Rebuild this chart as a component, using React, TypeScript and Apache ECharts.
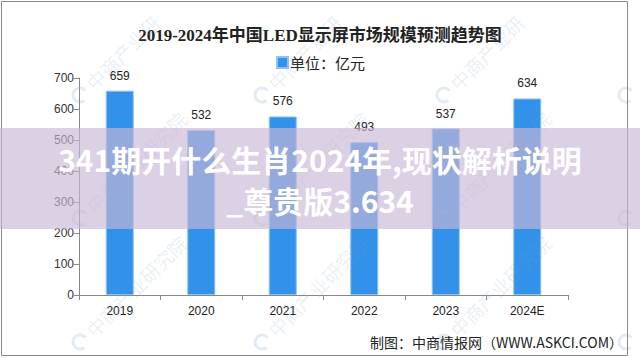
import React, { useEffect, useRef } from "react";
import * as echarts from "echarts";

const categories = ["2019", "2020", "2021", "2022", "2023", "2024E"];
const values = [659, 532, 576, 493, 537, 634];
const seriesName = "单位：亿元";
const titleText = "2019-2024年中国LED显示屏市场规模预测趋势图";
const overlayLine1 = "341期开什么生肖2024年,现状解析说明";
const overlayLine2 = "_尊贵版3.634";
const footerText = "制图：中商情报网（WWW.ASKCI.COM）";
const watermarkText = "中商产业研究院";
const yTicks = { min: 0, max: 700, interval: 100 };

export default function App() {
  const ref = useRef<HTMLDivElement>(null);
  useEffect(() => {
    if (!ref.current) return;
    const chart = echarts.init(ref.current, null, { renderer: "svg" });
    const W = 640;
    const wmCols = [80, 262, 444, 626];
    const wmRows = [95, 218, 342];
    const fs = 19;
    const step = fs * Math.SQRT1_2;
    const watermarks: any[] = [];
    wmRows.forEach((y) =>
      wmCols.forEach((x) => {
        watermarks.push({
          type: "arc",
          shape: { cx: x, cy: y, r: 7, startAngle: 0.9, endAngle: 5.6 },
          style: { stroke: "rgba(120,160,210,0.22)", lineWidth: 3, fill: "none" },
          z: 50,
          silent: true,
        });
        const sx = x + 9;
        const sy = y - 9;
        const nx = Math.floor((W - 4 - sx - step) / step);
        const ny = Math.floor((sy - 4 - step) / step);
        const n = Math.min(watermarkText.length, nx, ny);
        if (n > 0) {
          watermarks.push({
            type: "text",
            x: sx,
            y: sy,
            rotation: Math.PI / 4,
            style: {
              text: watermarkText.slice(0, n),
              fontSize: fs,
              fontFamily: "Noto Sans CJK SC",
              fill: "rgba(130,160,200,0.18)",
              textAlign: "left",
              textVerticalAlign: "middle",
            },
            z: 50,
            silent: true,
          });
        }
      })
    );
    chart.setOption({
      animation: false,
      backgroundColor: "#ffffff",
      title: {
        text: titleText,
        left: "center",
        top: 22,
        textStyle: {
          fontSize: 17,
          fontWeight: "bold",
          color: "#222",
          fontFamily: "'Liberation Serif', 'Noto Sans CJK SC', serif",
        },
      },
      legend: {
        data: [seriesName],
        left: 271,
        top: 50,
        itemWidth: 11,
        itemHeight: 11,
        icon: "rect",
        itemGap: 2,
        textStyle: { fontSize: 15, color: "#222", fontFamily: "'Noto Sans CJK SC'", padding: [0, 0, 0, -3] },
      },
      grid: { left: 79, right: 72, top: 78, bottom: 63, containLabel: false },
      xAxis: {
        type: "category",
        data: categories,
        axisLine: { lineStyle: { color: "#888", width: 1 } },
        axisTick: { show: true, length: 5, alignWithLabel: false, lineStyle: { color: "#888" } },
        axisLabel: { margin: 10, fontSize: 12, color: "#222", fontFamily: "'Liberation Sans', sans-serif" },
      },
      yAxis: {
        type: "value",
        min: yTicks.min,
        max: yTicks.max,
        interval: yTicks.interval,
        splitLine: { show: false },
        axisLine: { show: true, lineStyle: { color: "#888", width: 1 } },
        axisTick: { show: true, length: 5, lineStyle: { color: "#888" } },
        axisLabel: { margin: 5, fontSize: 12, color: "#333", fontFamily: "'Liberation Sans', sans-serif" },
      },
      series: [
        {
          name: seriesName,
          type: "bar",
          data: values,
          barWidth: 28,
          itemStyle: { color: "#3291e9", borderColor: "#8cc3f2", borderWidth: 1 },
          label: {
            show: true,
            position: "top",
            distance: 9,
            fontSize: 12,
            color: "#222",
            fontFamily: "'Liberation Sans', sans-serif",
          },
        },
      ],
      graphic: [
        ...watermarks,
        {
          type: "rect",
          shape: { x: 1.5, y: 1.5, width: 626, height: 354 },
          style: { fill: "none", stroke: "#8a8a8a", lineWidth: 1 },
          z: 60,
          silent: true,
        },
        {
          type: "text",
          right: 17,
          top: 335,
          style: {
            text: footerText,
            fontSize: 14,
            fill: "#222",
            fontFamily: "'Noto Sans CJK SC'",
          },
          z: 60,
        },
        {
          type: "rect",
          shape: { x: 0, y: 128, width: 640, height: 101 },
          style: { fill: "rgba(202,183,213,0.65)" },
          z: 100,
          silent: true,
        },
        {
          type: "text",
          x: 320,
          y: 159,
          style: {
            text: overlayLine1,
            fontSize: 30,
            fontWeight: "bold",
            fill: "#ffffff",
            textAlign: "center",
            textVerticalAlign: "middle",
            fontFamily: "'Noto Sans CJK SC'",
          },
          z: 101,
        },
        {
          type: "text",
          x: 320,
          y: 200,
          style: {
            text: overlayLine2,
            fontSize: 30,
            fontWeight: "bold",
            fill: "#ffffff",
            textAlign: "center",
            textVerticalAlign: "middle",
            fontFamily: "'Noto Sans CJK SC'",
          },
          z: 101,
        },
      ],
    });
    return () => chart.dispose();
  }, []);
  return (
    <div
      ref={ref}
      style={{ position: "fixed", left: 0, top: 0, width: 640, height: 358 }}
    />
  );
}
